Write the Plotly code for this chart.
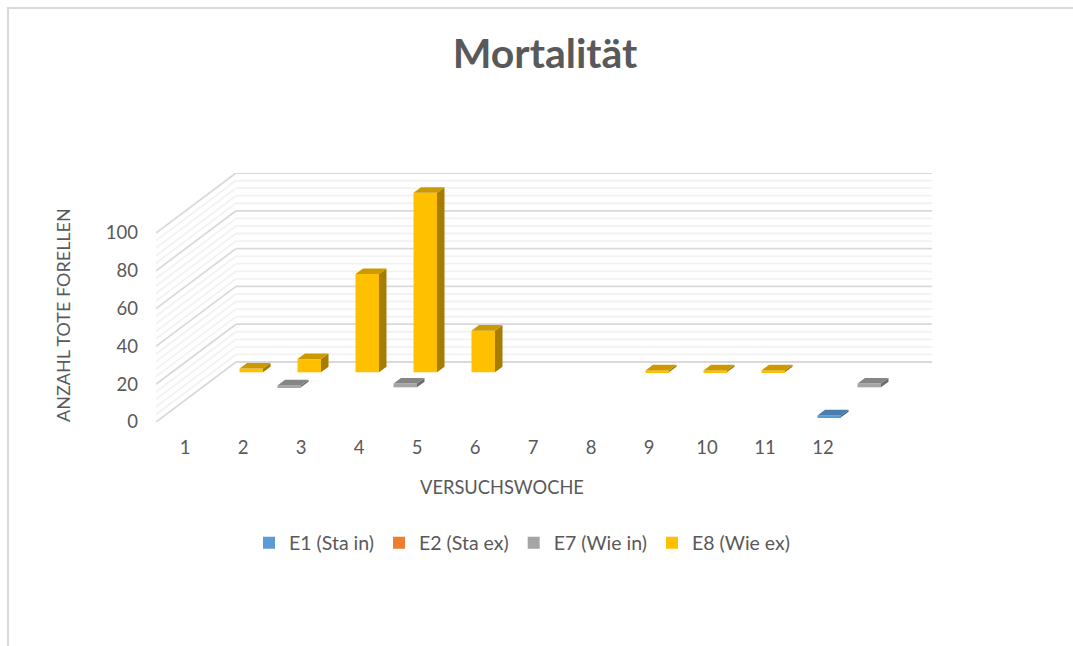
import plotly.graph_objects as go

weeks = list(range(1, 13))
week_labels = [str(w) for w in weeks]
e1_sta_in = [None, None, None, None, None, None, None, None, None, None, None, 1]
e2_sta_ex = [None] * 12
e7_wie_in = [None, 1, None, 2, None, None, None, None, None, None, None, 2]
e8_wie_ex = [2, 7, 52, 95, 22, None, None, 1, 1, 1, None, None]
series_names = ["E1 (Sta in)", "E2 (Sta ex)", "E7 (Wie in)", "E8 (Wie ex)"]
front_colors = ["#5b9bd5", "#ed7d31", "#a5a5a5", "#ffc000"]
top_colors = ["#4a7eac", "#bf6528", "#858585", "#cc9a00"]
side_colors = ["#3a6389", "#96501f", "#6c6c6c", "#a67d00"]
y_ticks = [0, 20, 40, 60, 80, 100]
minor_step = 4

W, H = 1073, 646
L, R, T, B = 156, 932, 173, 422
TEXT = "#595959"
FONT = "Lato"

# Oblique projection, expressed in axis units (the axes describe the front plane)
PX_PER_WEEK = 58.0
PX_PER_UNIT = 1.89
DEPTH_X = 80 / PX_PER_WEEK
DEPTH_Y = 60 / PX_PER_UNIT
BAR_W = 0.405
BAR_D = 0.094


def proj(x, v, f):
    """x in weeks, v in value units, f: 0 = back wall, 1 = front plane."""
    return x + (1 - f) * DEPTH_X, v + (1 - f) * DEPTH_Y


def pap_x(v):
    return (v - L) / (R - L)


def pap_y(v):
    return (B - v) / (B - T)


GRID_MAJOR = "#d9d9d9"
GRID_MINOR = "#f2f2f2"
shapes = []
levels = list(range(0, 101, minor_step))
for v in sorted(levels, key=lambda t: t in y_ticks):
    major = v in y_ticks
    line = dict(color=GRID_MAJOR if major else GRID_MINOR, width=1.8)
    x0, y0 = proj(0, v, 1)
    x1, y1 = proj(0, v, 0)
    x2, y2 = proj(12, v, 0)
    shapes.append(dict(type="line", xref="x", yref="y", x0=x0, y0=y0, x1=x1, y1=y1, line=line, layer="below"))
    shapes.append(dict(type="line", xref="x", yref="y", x0=x1, y0=y1, x1=x2, y1=y2, line=line, layer="below"))
# chart frame
shapes.append(dict(type="line", xref="paper", yref="paper", x0=pap_x(7), y0=pap_y(8), x1=pap_x(1073), y1=pap_y(8),
                   line=dict(color="#d9d9d9", width=2.2)))
shapes.append(dict(type="line", xref="paper", yref="paper", x0=pap_x(8), y0=pap_y(7), x1=pap_x(8), y1=pap_y(646),
                   line=dict(color="#d9d9d9", width=2.2)))

fig = go.Figure()
all_series = [e1_sta_in, e2_sta_ex, e7_wie_in, e8_wie_ex]


def front_depth(idx):
    return (3 - idx + 0.5) / 4 + BAR_D / 2


# Front faces as real bars; back series first
for idx in [3, 2, 1, 0]:
    values = all_series[idx]
    xs, bases = [], []
    for w in weeks:
        bx, by = proj(w - 0.5, 0, front_depth(idx))
        xs.append(bx)
        bases.append(by)
    fig.add_trace(go.Bar(x=xs, y=values, base=bases, width=BAR_W, name=series_names[idx],
                         marker=dict(color=front_colors[idx], line=dict(width=0)),
                         legendrank=idx + 1, hoverinfo="name+y"))

# Top and side faces
for idx in [3, 2, 1, 0]:
    values = all_series[idx]
    f_front = front_depth(idx)
    f_back = f_front - BAR_D
    for w, val in zip(weeks, values):
        if val is None:
            continue
        xl, xr = w - 0.5 - BAR_W / 2, w - 0.5 + BAR_W / 2
        top = [proj(xl, val, f_front), proj(xr, val, f_front), proj(xr, val, f_back), proj(xl, val, f_back)]
        side = [proj(xr, 0, f_front), proj(xr, 0, f_back), proj(xr, val, f_back), proj(xr, val, f_front)]
        for poly, col in ((side, side_colors[idx]), (top, top_colors[idx])):
            fig.add_trace(go.Scatter(x=[p[0] for p in poly] + [poly[0][0]],
                                     y=[p[1] for p in poly] + [poly[0][1]],
                                     mode="lines", fill="toself", fillcolor=col,
                                     line=dict(width=0, color=col), showlegend=False,
                                     hoverinfo="skip"))

fig.update_layout(
    width=W, height=H, autosize=False,
    margin=dict(l=L, r=W - R, t=T, b=H - B),
    paper_bgcolor="white", plot_bgcolor="white",
    barmode="overlay",
    font=dict(family=FONT, color=TEXT, size=18),
    showlegend=True,
    title=dict(text="<b>Mortalität</b>", x=545 / W, xanchor="center", y=1 - 54 / H, yanchor="middle",
               font=dict(family=FONT, size=41, color=TEXT)),
    xaxis=dict(range=[0, (R - L) / PX_PER_WEEK], tickmode="array",
               tickvals=[w - 0.5 for w in weeks], ticktext=week_labels,
               showgrid=False, zeroline=False, showline=False, ticks="",
               ticklabelstandoff=12, tickfont=dict(size=18.5, color=TEXT), fixedrange=True),
    yaxis=dict(range=[0, (B - T) / PX_PER_UNIT], tickmode="array",
               tickvals=y_ticks, showgrid=False, zeroline=False, showline=False, ticks="",
               ticklabelstandoff=17, tickfont=dict(size=18.5, color=TEXT), fixedrange=True),
    legend=dict(orientation="h", x=249 / W, xref="container", xanchor="left",
                y=1 - 543 / H, yref="container", yanchor="middle",
                traceorder="normal",
                font=dict(size=19.5, color=TEXT), bgcolor="rgba(0,0,0,0)"),
    shapes=shapes,
    annotations=[
        dict(text="VERSUCHSWOCHE", xref="paper", yref="paper", x=pap_x(502), y=pap_y(487),
             xanchor="center", yanchor="middle", showarrow=False, font=dict(size=18.3, color=TEXT)),
        dict(text="ANZAHL TOTE FORELLEN", xref="paper", yref="paper", x=pap_x(63), y=pap_y(315),
             xanchor="center", yanchor="middle", textangle=-90, showarrow=False,
             font=dict(size=18, color=TEXT)),
    ],
)
fig.write_html("out.html", config={"displayModeBar": False},
               post_script="document.body.style.margin='0';")
